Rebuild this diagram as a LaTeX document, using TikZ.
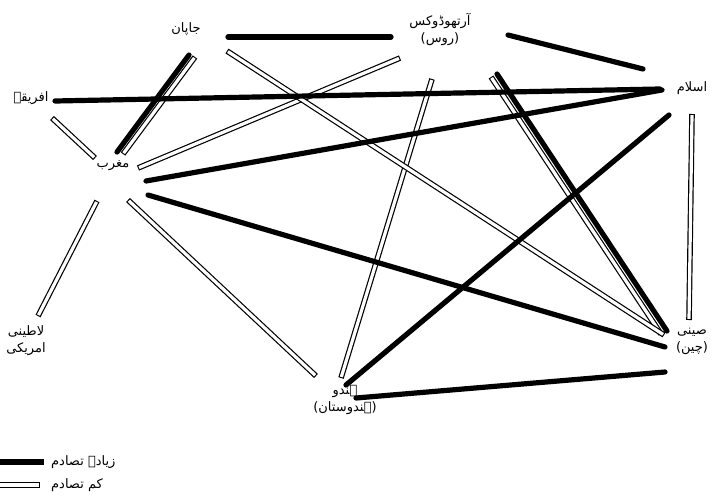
\documentclass[tikz,border=0pt]{standalone}
\usepackage{fontspec}
\newfontfamily\urdufont[Script=Arabic]{DejaVu Sans}
\newfontfamily\plainfont{DejaVu Sans}
\TeXXeTstate=1
\newcommand\ur[1]{{\urdufont\beginR #1\endR}}
\newcommand\pur[1]{{\plainfont(}\ur{#1}{\plainfont)}}
\newcommand\dblcon[2]{\draw[dblout] (#1) -- (#2); \draw[dblin] (#1) -- (#2);}
\tikzset{
  lbl/.style={font=\fontsize{13}{17}\selectfont, align=center, inner sep=1pt},
  thk/.style={line width=5.2pt, line cap=round, black},
  dblout/.style={line width=5.6pt, black},
  dblin/.style={line width=3.2pt, white, shorten <=1.1pt, shorten >=1.1pt},
}
\begin{document}
\begin{tikzpicture}[x=1pt,y=-1pt]
\useasboundingbox (0,0) rectangle (722,501);
% labels
\node[lbl] (afr) at (31,98) {\ur{افریقہ}};
\node[lbl] (jap) at (186,29) {\ur{جاپان}};
\node[lbl] (orth) at (440,29) {\ur{آرتھوڈوکس}\\\pur{روس}};
\node[lbl] (isl) at (692,88) {\ur{اسلام}};
\node[lbl] (west) at (113,166) {\ur{مغرب}};
\node[lbl] (lat) at (26,341) {\ur{لاطینی}\\\ur{امریکی}};
\node[lbl] (hin) at (345,400) {\ur{ہندو}\\\pur{ہندوستان}};
\node[lbl] (sin) at (692,341) {\ur{صینی}\\\pur{چین}};
\node[lbl, anchor=west] (lg1) at (50,462) {\ur{زیادہ تصادم}};
\node[lbl, anchor=west] (lg2) at (50,485) {\ur{کم تصادم}};
% end points
\coordinate (jO) at (228,37);  \coordinate (oJ) at (391,37);
\coordinate (oI) at (508,35);  \coordinate (iO) at (643,69);
\coordinate (aI) at (55,101);  \coordinate (iA) at (660,89);
\coordinate (jW) at (189,55);  \coordinate (wJ) at (117,152);
\coordinate (jW2) at (195,57); \coordinate (wJ2) at (123,154);
\coordinate (wI) at (146,181); \coordinate (iW) at (662,90);
\coordinate (wS) at (148,195); \coordinate (sW) at (665,347);
\coordinate (hI) at (346,385); \coordinate (iH) at (669,115);
\coordinate (hS) at (356,398); \coordinate (sH) at (665,372);
\coordinate (oS) at (497,74);  \coordinate (sO) at (667,331);
\coordinate (oS2) at (491,77); \coordinate (sO2) at (661,334);
\coordinate (aW) at (52,118);  \coordinate (wA) at (95,158);
\coordinate (oW) at (400,58);  \coordinate (wO) at (138,168);
\coordinate (oH) at (432,79);  \coordinate (hO) at (341,378);
\coordinate (jS) at (227,51);  \coordinate (sJ) at (664,335);
\coordinate (iS) at (692,114); \coordinate (sI) at (689,320);
\coordinate (lW) at (38,316);  \coordinate (wL) at (97,201);
\coordinate (hW) at (316,376); \coordinate (wH) at (128,200);
\coordinate (lgA) at (0,462);  \coordinate (lgB) at (44,462);
\coordinate (lgC) at (0,485);  \coordinate (lgD) at (40,485);
% double (lesser conflict) lines
\dblcon{jW2}{wJ2}
\dblcon{oS2}{sO2}
\dblcon{aW}{wA}
\dblcon{oW}{wO}
\dblcon{oH}{hO}
\dblcon{jS}{sJ}
\dblcon{iS}{sI}
\dblcon{lW}{wL}
\dblcon{hW}{wH}
% thick (greater conflict) lines
\draw[thk] (jO) -- (oJ);
\draw[thk] (oI) -- (iO);
\draw[thk] (aI) -- (iA);
\draw[thk] (jW) -- (wJ);
\draw[thk] (wI) -- (iW);
\draw[thk] (wS) -- (sW);
\draw[thk] (hI) -- (iH);
\draw[thk] (hS) -- (sH);
\draw[thk] (oS) -- (sO);
% legend
\draw[thk, line cap=butt] (lgA) -- (lgB);
\draw[dblout] (lgC) -- (lgD);
\draw[dblin, shorten <=0pt] (lgC) -- (lgD);
\end{tikzpicture}
\end{document}
